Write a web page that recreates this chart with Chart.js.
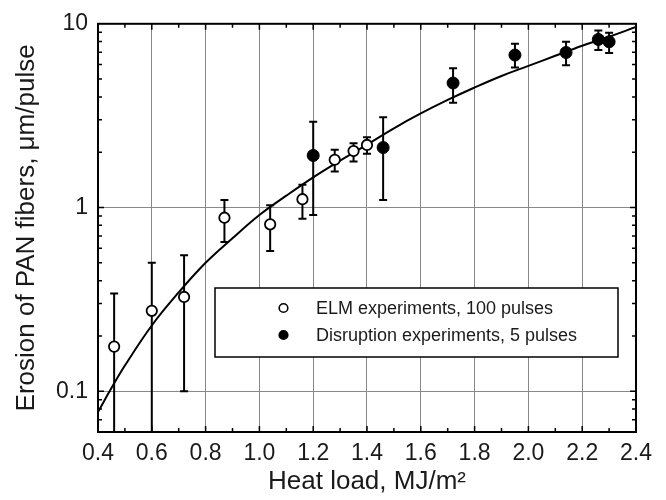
<!DOCTYPE html>
<html>
<head>
<meta charset="utf-8">
<script src="https://cdn.jsdelivr.net/npm/chart.js@4.4.1/dist/chart.umd.min.js"></script>
<style>
  html, body { margin: 0; padding: 0; background: #fff; }
  #wrap { width: 666px; height: 500px; }
</style>
</head>
<body>
<div id="wrap"><canvas id="c" width="666" height="500"></canvas></div>
<script>
// ---- Data ----
const elmLabel = 'ELM experiments, 100 pulses';
const elmX    = [0.46, 0.60, 0.72, 0.87, 1.04, 1.16, 1.28, 1.35, 1.40];
const elmY    = [0.175, 0.274, 0.326, 0.88, 0.81, 1.11, 1.82, 2.03, 2.19];
const elmHigh = [0.34, 0.50, 0.55, 1.10, 1.03, 1.33, 2.06, 2.24, 2.41];
const elmLow  = [0.01, 0.01, 0.10, 0.65, 0.58, 0.87, 1.57, 1.78, 1.96];

const disLabel = 'Disruption experiments, 5 pulses';
const disX    = [1.20, 1.46, 1.72, 1.95, 2.14, 2.26, 2.30];
const disY    = [1.92, 2.12, 4.76, 6.76, 6.98, 8.22, 7.98];
const disHigh = [2.93, 3.10, 5.72, 7.78, 7.98, 9.20, 8.93];
const disLow  = [0.91, 1.10, 3.72, 5.78, 5.94, 7.20, 6.94];

const fitX = [0.4, 0.45, 0.5, 0.6, 0.7, 0.8, 0.9, 1.0, 1.1, 1.2, 1.3, 1.4, 1.5, 1.6, 1.7, 1.8, 1.9, 2.0, 2.1, 2.2, 2.3, 2.4];
const fitY = [0.077, 0.104, 0.138, 0.228, 0.345, 0.50, 0.68, 0.91, 1.16, 1.46, 1.8, 2.2, 2.7, 3.25, 3.85, 4.5, 5.2, 5.9, 6.7, 7.6, 8.5, 9.6];

const xTickValues = [0.4, 0.6, 0.8, 1.0, 1.2, 1.4, 1.6, 1.8, 2.0, 2.2, 2.4];
const yTickValues = [0.1, 1, 10];
const yTickLabels = ['0.1', '1', '10'];

const xTitle = 'Heat load, MJ/m\u00B2';
const yTitle = 'Erosion of PAN fibers, \u03BCm/pulse';

const FONT = "'Liberation Sans', Arial, sans-serif";
const TXT = '#1a1a1a';

function pts(xs, ys) { return xs.map((x, i) => ({ x: x, y: ys[i] })); }

// ---- Plugins ----
const errorBars = {
  id: 'errorBars',
  beforeDatasetsDraw(chart) {
    const { ctx, chartArea: a, scales: { x, y } } = chart;
    ctx.save();
    ctx.beginPath();
    ctx.rect(a.left, a.top, a.right - a.left, a.bottom - a.top);
    ctx.clip();
    ctx.strokeStyle = '#000';
    ctx.lineWidth = 2;
    const draw = (xs, lo, hi) => {
      xs.forEach((xv, i) => {
        const px = x.getPixelForValue(xv);
        const pl = y.getPixelForValue(lo[i]);
        const ph = y.getPixelForValue(hi[i]);
        ctx.beginPath();
        ctx.moveTo(px, pl); ctx.lineTo(px, ph);
        ctx.moveTo(px - 4, ph); ctx.lineTo(px + 4, ph);
        ctx.moveTo(px - 4, pl); ctx.lineTo(px + 4, pl);
        ctx.stroke();
      });
    };
    draw(elmX, elmLow, elmHigh);
    draw(disX, disLow, disHigh);
    ctx.restore();
  }
};

const frameAndTicks = {
  id: 'frameAndTicks',
  afterDraw(chart) {
    const { ctx, chartArea: a, scales: { x, y } } = chart;
    ctx.save();
    ctx.strokeStyle = '#000';
    ctx.lineWidth = 1.5;
    for (let k = 0; k <= 20; k++) {
      const v = 0.4 + k * 0.1;
      const px = x.getPixelForValue(v);
      const len = (k % 2 === 0) ? 6 : 4;
      ctx.beginPath();
      ctx.moveTo(px, a.bottom); ctx.lineTo(px, a.bottom - len);
      ctx.moveTo(px, a.top); ctx.lineTo(px, a.top + len);
      ctx.stroke();
    }
    const decades = [0.01, 0.1, 1];
    decades.forEach(d => {
      for (let m = 1; m <= 9; m++) {
        const v = d * m;
        if (v < y.min - 1e-9 || v > y.max + 1e-9) continue;
        const py = y.getPixelForValue(v);
        const len = (m === 1) ? 6 : 4;
        ctx.beginPath();
        ctx.moveTo(a.left, py); ctx.lineTo(a.left + len, py);
        ctx.moveTo(a.right, py); ctx.lineTo(a.right - len, py);
        ctx.stroke();
      }
    });
    ctx.lineWidth = 2;
    ctx.strokeRect(a.left, a.top, a.right - a.left, a.bottom - a.top);

    // Legend box
    const lx = 215, ly = 288, lw = 403, lh = 69;
    ctx.fillStyle = '#fff';
    ctx.fillRect(lx, ly, lw, lh);
    ctx.lineWidth = 1.5;
    ctx.strokeRect(lx, ly, lw, lh);
    const rows = [
      { label: chart.data.datasets[0].label, fill: '#fff', y: 308 },
      { label: chart.data.datasets[1].label, fill: '#000', y: 335 }
    ];
    ctx.font = '18px ' + FONT;
    ctx.textBaseline = 'middle';
    ctx.textAlign = 'left';
    rows.forEach(r => {
      ctx.beginPath();
      ctx.arc(283.5, r.y, 4.3, 0, Math.PI * 2);
      ctx.fillStyle = r.fill;
      ctx.fill();
      ctx.lineWidth = 1.6;
      ctx.strokeStyle = '#000';
      ctx.stroke();
      ctx.fillStyle = TXT;
      ctx.fillText(r.label, 316, r.y + 1);
    });
    ctx.restore();
  }
};

new Chart(document.getElementById('c'), {
  type: 'scatter',
  data: {
    datasets: [
      {
        label: elmLabel,
        data: pts(elmX, elmY),
        pointStyle: 'circle',
        pointRadius: 5.2,
        pointBackgroundColor: '#fff',
        pointBorderColor: '#000',
        pointBorderWidth: 1.8,
        order: 1
      },
      {
        label: disLabel,
        data: pts(disX, disY),
        pointStyle: 'circle',
        pointRadius: 6,
        pointBackgroundColor: '#000',
        pointBorderColor: '#000',
        pointBorderWidth: 1,
        order: 0
      },
      {
        label: 'fit',
        data: pts(fitX, fitY),
        showLine: true,
        borderColor: '#000',
        borderWidth: 2,
        pointRadius: 0,
        tension: 0.4,
        order: 5
      }
    ]
  },
  options: {
    responsive: false,
    animation: false,
    devicePixelRatio: 1,
    layout: { padding: { top: 19, right: 30, left: 0, bottom: 0 } },
    plugins: {
      legend: { display: false },
      tooltip: { enabled: false }
    },
    scales: {
      x: {
        type: 'linear',
        min: 0.4, max: 2.4,
        afterBuildTicks(scale) { scale.ticks = xTickValues.map(v => ({ value: v })); },
        afterFit(scale) { scale.height = 68; },
        ticks: {
          font: { family: FONT, size: 23 },
          color: TXT,
          padding: 8,
          maxRotation: 0,
          callback: v => Number(v).toFixed(1)
        },
        grid: { color: '#888', lineWidth: 1, drawTicks: false },
        border: { display: true, color: '#000', width: 2 },
        title: {
          display: true, text: xTitle, color: TXT,
          font: { family: FONT, size: 26 },
          padding: { top: 0, bottom: 3 }
        }
      },
      y: {
        type: 'logarithmic',
        min: 0.06, max: 10,
        afterBuildTicks(scale) { scale.ticks = yTickValues.map(v => ({ value: v })); },
        afterFit(scale) { scale.width = 98; },
        ticks: {
          font: { family: FONT, size: 23 },
          color: TXT,
          padding: 10,
          callback: (v) => yTickLabels[yTickValues.indexOf(v)] ?? ''
        },
        grid: { color: '#888', lineWidth: 1, drawTicks: false },
        border: { display: true, color: '#000', width: 2 },
        title: {
          display: true, text: yTitle, color: TXT,
          font: { family: FONT, size: 26 },
          padding: { top: 11, bottom: 0 }
        }
      }
    }
  },
  plugins: [errorBars, frameAndTicks]
});
</script>
</body>
</html>
